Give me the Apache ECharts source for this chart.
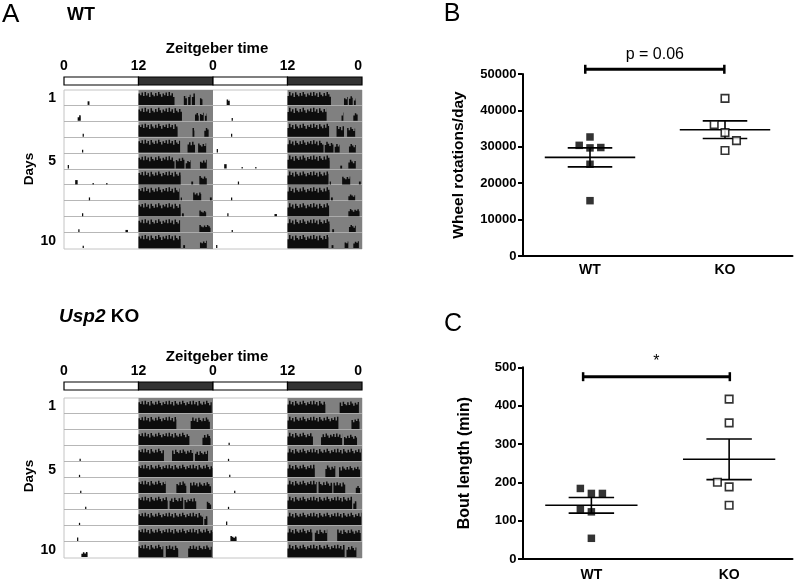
<!DOCTYPE html>
<html>
<head>
<meta charset="utf-8">
<script src="https://cdn.jsdelivr.net/npm/echarts@6/dist/echarts.min.js"></script>
<style>
  html, body { margin: 0; padding: 0; background: #fff; }
  #chart { width: 800px; height: 582px; }
</style>
</head>
<body>
<div id="chart"></div>
<script>
// ---- actogram data (ZT hours, [start, end, level]) ----
const ztTicks = [0, 12, 24, 36, 48];
const dayNames = ['1', '2', '3', '4', '5', '6', '7', '8', '9', '10'];
const dayLabels = ['1', '', '', '', '5', '', '', '', '', '10'];
const ldSegments = [[0, 12, 0], [12, 24, 1], [24, 36, 0], [36, 48, 1]];
const darkSpans = [[12, 24], [36, 48]];

// 11 days each: row i shows day i (left) and day i+1 (right)
const wtDays = [
  [[3.8, 4.1, 0.25], [12, 17.8, 0.9], [19.3, 19.8, 0.75], [20.0, 20.4, 0.75], [20.6, 21.1, 0.8], [21.9, 22.3, 0.6]],
  [[2.2, 2.7, 0.4], [12, 19.0, 0.9], [21.1, 21.7, 0.6], [21.9, 22.5, 0.6], [22.7, 23.0, 0.5]],
  [[3.0, 3.2, 0.2], [12, 18.3, 0.9], [20.7, 21.0, 0.6], [22.6, 23.3, 0.6]],
  [[2.9, 3.1, 0.2], [12, 18.7, 0.9], [19.9, 21.1, 0.75], [21.6, 22.9, 0.65]],
  [[0.6, 0.8, 0.25], [12, 17.8, 0.85], [18.0, 19.4, 0.75], [19.6, 20.4, 0.6], [21.9, 23.0, 0.6]],
  [[1.8, 2.2, 0.3], [4.6, 4.8, 0.1], [6.8, 7.0, 0.1], [12, 18.8, 0.9], [20.5, 20.8, 0.2], [21.8, 23.0, 0.6]],
  [[4.0, 4.2, 0.2], [12, 18.6, 0.9], [18.8, 19.0, 0.2], [20.8, 22.1, 0.55], [23.5, 23.8, 0.2]],
  [[2.9, 3.1, 0.2], [12, 18.8, 0.9], [19.0, 19.3, 0.2], [21.8, 22.9, 0.4]],
  [[2.3, 2.5, 0.2], [9.9, 10.3, 0.15], [12, 18.7, 0.9], [21.8, 23.6, 0.5]],
  [[3.0, 3.2, 0.15], [12, 18.8, 0.9], [19.2, 19.5, 0.2], [21.9, 23.0, 0.5]],
  [[0.5, 0.7, 0.2], [12, 18.6, 0.9], [19.1, 19.4, 0.2], [21.2, 21.8, 0.5], [22.6, 23.5, 0.5]]
];

const koDays = [
  [[12, 23.8, 0.85]],
  [[12, 18.1, 0.85], [20.4, 23.5, 0.8]],
  [[12, 20.2, 0.85], [22.3, 23.6, 0.75]],
  [[2.5, 2.7, 0.15], [12, 16.1, 0.85], [17.4, 20.8, 0.8], [21.1, 23.2, 0.7]],
  [[2.4, 2.6, 0.15], [12, 23.9, 0.85]],
  [[2.6, 2.8, 0.15], [12, 16.4, 0.85], [18.1, 19.7, 0.8], [20.3, 23.7, 0.75]],
  [[3.4, 3.6, 0.15], [12, 16.7, 0.85], [17.0, 19.2, 0.8], [19.4, 21.3, 0.75], [23.0, 23.7, 0.5]],
  [[2.4, 2.6, 0.15], [12, 22.4, 0.85], [22.6, 23.1, 0.6]],
  [[2.1, 2.3, 0.25], [12, 23.9, 0.85]],
  [[2.8, 3.8, 0.35], [12, 16.0, 0.85], [16.4, 18.4, 0.8], [20.0, 23.8, 0.8]],
  [[12, 21.2, 0.85], [21.5, 23.1, 0.75]]
];

// ---- wheel running (panel B) ----
const groupNames = ['WT', 'KO'];
const wtWheel = [32700, 30400, 29700, 29800, 25200, 15200];
const wtWheelX = [1, 0.84, 1, 1.16, 1, 1];
const koWheel = [43300, 36100, 33900, 31700, 29000];
const koWheelX = [3, 2.84, 3, 3.17, 3];
const wheelMean = [27100, 34700];
const wheelSem = [2610, 2420];
const wheelTicks = [0, 10000, 20000, 30000, 40000, 50000];

// ---- bout length (panel C) ----
const wtBout = [184, 171, 171, 130, 123, 54];
const wtBoutX = [0.84, 1, 1.16, 0.84, 1, 1];
const koBout = [417, 355, 200, 188, 140];
const koBoutX = [3, 3, 2.83, 3, 3];
const boutMean = [140, 260];
const boutSem = [20.4, 53];
const boutTicks = [0, 100, 200, 300, 400, 500];

const FONT = '"Liberation Sans", Arial, sans-serif';

// jagged top of activity bars (drawing texture only)
const spikeTexture = [1, 0.72, 0.9, 0.6, 0.97, 0.78, 0.66, 0.92, 0.7, 1, 0.82, 0.62, 0.88, 0.74, 0.95, 0.68];

// build actogram rows (double plotted)
function buildRows(days) {
  const rows = [];
  for (let r = 0; r < dayNames.length; r++) {
    days[r].forEach(b => rows.push([b[0], b[1], r, b[2]]));
    days[r + 1].forEach(b => rows.push([b[0] + 24, b[1] + 24, r, b[2]]));
  }
  return rows;
}

function renderLD(params, api) {
  const cs = params.coordSys;
  const a = api.coord([api.value(0), 0]);
  const b = api.coord([api.value(1), 0]);
  return {
    type: 'rect',
    shape: { x: a[0], y: cs.y, width: b[0] - a[0], height: cs.height },
    style: { fill: api.value(2) ? '#333' : '#fff', stroke: '#000', lineWidth: 1.2 }
  };
}

function renderShade(params, api) {
  const cs = params.coordSys;
  const a = api.coord([api.value(0), 0]);
  const b = api.coord([api.value(1), 0]);
  return {
    type: 'rect',
    shape: { x: a[0], y: cs.y, width: b[0] - a[0], height: cs.height },
    style: { fill: '#808080' }
  };
}

function renderSep(params, api) {
  const cs = params.coordSys;
  const rowH = cs.height / dayNames.length;
  const y = Math.round(cs.y + rowH * (api.value(0) + 1)) - 0.5;
  return {
    type: 'line',
    shape: { x1: cs.x, y1: y, x2: cs.x + cs.width, y2: y },
    style: { stroke: 'rgba(175,175,175,0.9)', lineWidth: 1 }
  };
}

function renderBout(params, api) {
  const cs = params.coordSys;
  const rowH = cs.height / dayNames.length;
  const base = cs.y + rowH * (api.value(2) + 1) - 1;
  const x0 = api.coord([api.value(0), 0])[0];
  const x1 = Math.max(api.coord([api.value(1), 0])[0], x0 + 1.2);
  const h = api.value(3) * (rowH - 1.5);
  const pts = [[x0, base]];
  const n = spikeTexture.length;
  for (let x = x0; x < x1; x += 1.5) {
    const k = Math.floor(x / 1.5) % n;
    const top = base - h * (h > 5 ? spikeTexture[k] : 1);
    const xe = Math.min(x + 1.5, x1);
    pts.push([x, top], [xe, top]);
  }
  pts.push([x1, base]);
  return { type: 'polygon', shape: { points: pts }, style: { fill: '#0d0d0d' } };
}

function renderMean(params, api) {
  const x = api.value(0), m = api.value(1), s = api.value(2);
  const seg = (xa, ya, xb, yb) => {
    const p = api.coord([xa, ya]), q = api.coord([xb, yb]);
    return { type: 'line', shape: { x1: p[0], y1: p[1], x2: q[0], y2: q[1] }, style: { stroke: '#000', lineWidth: 1.6 } };
  };
  return {
    type: 'group',
    children: [
      seg(x - 0.67, m, x + 0.67, m),
      seg(x - 0.33, m + s, x + 0.33, m + s),
      seg(x - 0.33, m - s, x + 0.33, m - s),
      seg(x, m - s, x, m + s)
    ]
  };
}

function makeBracket(text, fontSize) {
  return function (params, api) {
    const p = api.coord([api.value(0), api.value(2)]);
    const q = api.coord([api.value(1), api.value(2)]);
    return {
      type: 'group',
      children: [
        { type: 'line', shape: { x1: p[0], y1: p[1], x2: q[0], y2: q[1] }, style: { stroke: '#000', lineWidth: 3 } },
        { type: 'line', shape: { x1: p[0], y1: p[1] - 4.5, x2: p[0], y2: p[1] + 4.5 }, style: { stroke: '#000', lineWidth: 2.5 } },
        { type: 'line', shape: { x1: q[0], y1: q[1] - 4.5, x2: q[0], y2: q[1] + 4.5 }, style: { stroke: '#000', lineWidth: 2.5 } },
        { type: 'text', x: (p[0] + q[0]) / 2, y: p[1] - 15,
          style: { text: text, fill: '#000', font: 'normal ' + fontSize + 'px ' + FONT, align: 'center', verticalAlign: 'middle' } }
      ]
    };
  };
}

const boldLabel = { color: '#000', fontFamily: FONT, fontWeight: 'bold' };

function ldAxes(gi) {
  return {
    x: { type: 'value', gridIndex: gi, min: 0, max: 48, interval: 12, position: 'top',
      axisLine: { show: false }, axisTick: { show: false }, splitLine: { show: false },
      axisLabel: Object.assign({ fontSize: 14, margin: 4, alignMaxLabel: 'right',
        formatter: v => ztTicks.indexOf(v) >= 0 ? String(v % 24) : '' }, boldLabel) },
    y: { type: 'value', gridIndex: gi, min: 0, max: 1, show: false }
  };
}
function actoAxes(gi) {
  return {
    x: { type: 'value', gridIndex: gi, min: 0, max: 48, show: false },
    y: { type: 'category', gridIndex: gi, data: dayNames, inverse: true,
      axisLine: { show: false }, axisTick: { show: false }, splitLine: { show: false },
      axisLabel: Object.assign({ fontSize: 14, margin: 8, interval: 0, padding: [6, 0, 0, 0],
        formatter: (v, i) => dayLabels[i] }, boldLabel) }
  };
}
function statAxes(gi, xmax, ymax, yint, name, nameSize, gap, labelMargin, ticks) {
  return {
    x: { type: 'value', gridIndex: gi, min: 0, max: xmax, interval: 1,
      axisLine: { show: true, lineStyle: { color: '#000', width: 2 } },
      axisTick: { show: false }, splitLine: { show: false },
      axisLabel: Object.assign({ fontSize: 14, margin: labelMargin, showMaxLabel: false,
        formatter: v => v === 1 ? groupNames[0] : (v === 3 ? groupNames[1] : '') }, boldLabel) },
    y: { type: 'value', gridIndex: gi, min: ticks[0], max: ymax, interval: yint,
      name: name, nameLocation: 'middle', nameGap: gap, nameRotate: 90,
      nameTextStyle: { color: '#000', fontFamily: FONT, fontWeight: 'bold', fontSize: nameSize },
      axisLine: { show: true, lineStyle: { color: '#000', width: 2 } },
      axisTick: { show: true, length: 4.5, lineStyle: { color: '#000', width: 2 } },
      splitLine: { show: false },
      axisLabel: Object.assign({ fontSize: 13, margin: 6, formatter: v => String(v) }, boldLabel) }
  };
}

const a0 = ldAxes(0), a1 = actoAxes(1), a2 = ldAxes(2), a3 = actoAxes(3);
const aB = statAxes(4, 4, 50000, 10000, 'Wheel rotations/day', 15.5, 56, 7, wheelTicks);
const aC = statAxes(5, 3.92, 500, 100, 'Bout length (min)', 16, 50, 9, boutTicks);

const chart = echarts.init(document.getElementById('chart'), null, { renderer: 'canvas' });

const sq = 7.5;
const option = {
  animation: false,
  backgroundColor: '#fff',
  grid: [
    { left: 64, top: 77, width: 298, height: 8 },
    { left: 64, top: 90, width: 298, height: 159, show: true, borderColor: '#c4c4c4', borderWidth: 1, backgroundColor: '#fff' },
    { left: 64, top: 382, width: 298, height: 8 },
    { left: 64, top: 398, width: 298, height: 160, show: true, borderColor: '#c4c4c4', borderWidth: 1, backgroundColor: '#fff' },
    { left: 522.5, top: 74, width: 270, height: 182 },
    { left: 522.5, top: 367.3, width: 270, height: 192 }
  ],
  xAxis: [a0.x, a1.x, a2.x, a3.x, aB.x, aC.x],
  yAxis: [a0.y, a1.y, a2.y, a3.y, aB.y, aC.y],
  graphic: [
    { type: 'text', x: 2, y: 2, style: { text: 'A', font: 'normal 26px ' + FONT, fill: '#000' } },
    { type: 'text', x: 67, y: 15, style: { text: 'WT', font: 'bold 18px ' + FONT, fill: '#000', verticalAlign: 'middle' } },
    { type: 'text', x: 59, y: 317, style: { text: '{i|Usp2} KO', font: 'bold 19px ' + FONT, fill: '#000', verticalAlign: 'middle',
        rich: { i: { fontStyle: 'italic', fontWeight: 'bold', fontSize: 19, fontFamily: FONT, fill: '#000' } } } },
    { type: 'text', x: 217, y: 49, style: { text: 'Zeitgeber time', font: 'bold 15px ' + FONT, fill: '#000', align: 'center', verticalAlign: 'middle' } },
    { type: 'text', x: 217, y: 357, style: { text: 'Zeitgeber time', font: 'bold 15px ' + FONT, fill: '#000', align: 'center', verticalAlign: 'middle' } },
    { type: 'text', x: 29, y: 169, rotation: Math.PI / 2, style: { text: 'Days', font: 'bold 13.5px ' + FONT, fill: '#000', align: 'center', verticalAlign: 'middle' } },
    { type: 'text', x: 29, y: 476, rotation: Math.PI / 2, style: { text: 'Days', font: 'bold 13.5px ' + FONT, fill: '#000', align: 'center', verticalAlign: 'middle' } },
    { type: 'text', x: 452, y: 14, style: { text: 'B', font: 'normal 25px ' + FONT, fill: '#000', align: 'center', verticalAlign: 'middle' } },
    { type: 'text', x: 453, y: 324, style: { text: 'C', font: 'normal 25px ' + FONT, fill: '#000', align: 'center', verticalAlign: 'middle' } }
  ],
  series: [
    // WT actogram
    { type: 'custom', xAxisIndex: 0, yAxisIndex: 0, renderItem: renderLD, data: ldSegments, z: 3 },
    { type: 'custom', xAxisIndex: 1, yAxisIndex: 1, renderItem: renderShade, data: darkSpans, z: 1 },
    { type: 'custom', xAxisIndex: 1, yAxisIndex: 1, renderItem: renderSep, data: dayNames.slice(0, -1).map((d, i) => [i]), z: 2 },
    { type: 'custom', xAxisIndex: 1, yAxisIndex: 1, renderItem: renderBout, data: buildRows(wtDays), z: 3 },
    // KO actogram
    { type: 'custom', xAxisIndex: 2, yAxisIndex: 2, renderItem: renderLD, data: ldSegments, z: 3 },
    { type: 'custom', xAxisIndex: 3, yAxisIndex: 3, renderItem: renderShade, data: darkSpans, z: 1 },
    { type: 'custom', xAxisIndex: 3, yAxisIndex: 3, renderItem: renderSep, data: dayNames.slice(0, -1).map((d, i) => [i]), z: 2 },
    { type: 'custom', xAxisIndex: 3, yAxisIndex: 3, renderItem: renderBout, data: buildRows(koDays), z: 3 },
    // B
    { type: 'custom', xAxisIndex: 4, yAxisIndex: 4, renderItem: renderMean, z: 2,
      data: [[1, wheelMean[0], wheelSem[0]], [3, wheelMean[1], wheelSem[1]]] },
    { type: 'scatter', xAxisIndex: 4, yAxisIndex: 4, symbol: 'rect', symbolSize: sq, z: 3,
      itemStyle: { color: '#000' }, data: wtWheel.map((v, i) => [wtWheelX[i], v]) },
    { type: 'scatter', xAxisIndex: 4, yAxisIndex: 4, symbol: 'rect', symbolSize: sq, z: 3,
      itemStyle: { color: '#fff', borderColor: '#000', borderWidth: 1.6 }, data: koWheel.map((v, i) => [koWheelX[i], v]) },
    { type: 'custom', xAxisIndex: 4, yAxisIndex: 4, renderItem: makeBracket('p = 0.06', 16), clip: false, z: 4,
      data: [[0.93, 2.99, 51300]] },
    // C
    { type: 'custom', xAxisIndex: 5, yAxisIndex: 5, renderItem: renderMean, z: 2,
      data: [[1, boutMean[0], boutSem[0]], [3, boutMean[1], boutSem[1]]] },
    { type: 'scatter', xAxisIndex: 5, yAxisIndex: 5, symbol: 'rect', symbolSize: sq, z: 3,
      itemStyle: { color: '#000' }, data: wtBout.map((v, i) => [wtBoutX[i], v]) },
    { type: 'scatter', xAxisIndex: 5, yAxisIndex: 5, symbol: 'rect', symbolSize: sq, z: 3,
      itemStyle: { color: '#fff', borderColor: '#000', borderWidth: 1.6 }, data: koBout.map((v, i) => [koBoutX[i], v]) },
    { type: 'custom', xAxisIndex: 5, yAxisIndex: 5, renderItem: makeBracket('*', 16), clip: false, z: 4,
      data: [[0.88, 3.01, 475.5]] }
  ]
};

chart.setOption(option);
</script>
</body>
</html>
